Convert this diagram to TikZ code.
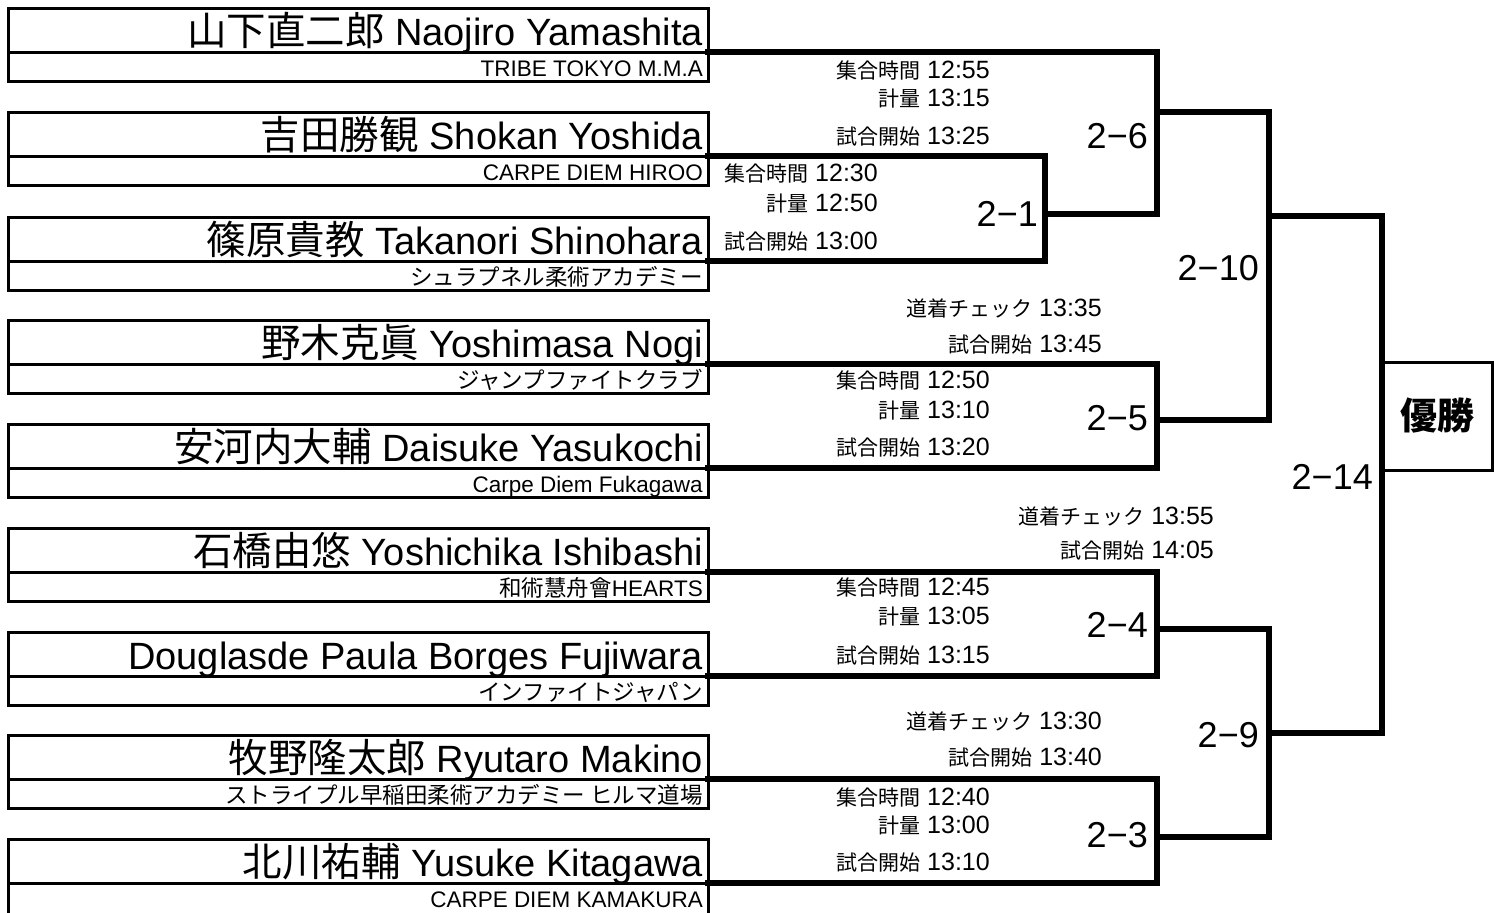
\documentclass[tikz,border=0pt]{standalone}
\usepackage{fontspec}
\setmainfont{Liberation Sans}
\newfontfamily\jp{Noto Sans CJK JP}
\newcommand\tj[1]{{\fontsize{21}{21}\selectfont\jp #1}}
\newcommand\nj[1]{{\fontsize{39.5}{39.5}\selectfont\jp #1}}
\begin{document}
\begin{tikzpicture}[x=1pt,y=-1pt,
  rowname/.style={draw,line width=3pt,minimum width=700pt,minimum height=44pt,anchor=north west,inner sep=0pt,outer sep=0pt},
  rowaff/.style={draw,line width=3pt,minimum width=700pt,minimum height=29pt,anchor=north west,inner sep=0pt,outer sep=0pt},
  nametxt/.style={anchor=base east,inner sep=0pt,font=\fontsize{38}{38}\selectfont},
  afftxt/.style={anchor=base east,inner sep=0pt,font=\fontsize{22.5}{22.5}\selectfont},
  tm/.style={anchor=base east,inner sep=0pt,font=\fontsize{25}{25}\selectfont},
  mlabel/.style={anchor=base east,inner sep=0pt,font=\fontsize{36}{36}\selectfont},
  bracket/.style={line width=6pt,line join=miter,line cap=rect}]
\useasboundingbox (0,0) rectangle (1494,913);
\clip (0,0) rectangle (1494,913);
\fill[white] (0,0) rectangle (1494,913);
% player boxes
\foreach \i/\t/\nm/\af in {
 1/8/{\nj{山下直二郎} Naojiro Yamashita}/{TRIBE TOKYO M.M.A},
 2/112/{\nj{吉田勝観} Shokan Yoshida}/{CARPE DIEM HIROO},
 3/217/{\nj{篠原貴教} Takanori Shinohara}/{{\jp シュラプネル柔術アカデミー}},
 4/320/{\nj{野木克眞} Yoshimasa Nogi}/{{\jp ジャンプファイトクラブ}},
 5/424/{\nj{安河内大輔} Daisuke Yasukochi}/{Carpe Diem Fukagawa},
 6/528/{\nj{石橋由悠} Yoshichika Ishibashi}/{{\jp 和術慧舟會}HEARTS},
 7/632/{Douglasde Paula Borges Fujiwara}/{{\jp インファイトジャパン}},
 8/735/{\nj{牧野隆太郎} Ryutaro Makino}/{{\jp ストライプル早稲田柔術アカデミー ヒルマ道場}},
 9/839/{\nj{北川祐輔} Yusuke Kitagawa}/{CARPE DIEM KAMAKURA}}{
  \node[rowname] (n\i) at (8,\t) {};
  \ifnum\i=9
    \node[rowaff,minimum height=34pt] (a\i) at (n\i.south west) {};
  \else
    \node[rowaff] (a\i) at (n\i.south west) {};
  \fi
  \node[nametxt] (nt\i) at (703,\t+37) {\nm};
  \node[afftxt] (at\i) at (703,\t+68) {\af};
}
% junctions
\coordinate (j21) at (1045,214);
\coordinate (j26) at (1157,112);
\coordinate (j25) at (1157,420);
\coordinate (j210) at (1269,216);
\coordinate (j24) at (1157,629);
\coordinate (j23) at (1157,837);
\coordinate (j29) at (1269,733);
\node[draw,line width=3pt,minimum width=110pt,minimum height=108pt,anchor=west,inner sep=0pt,outer sep=0pt,
  font=\fontsize{37}{37}\selectfont\jp\bfseries] (win) at (1382,416) {優勝};
% brackets
\draw[bracket] (n2.south east) -| (j21) |- (n3.south east);
\draw[bracket] (n1.south east) -| (j26) |- (j21);
\draw[bracket] (n4.south east) -| (j25) |- (n5.south east);
\draw[bracket] (j26) -| (j210) |- (j25);
\draw[bracket] (n6.south east) -| (j24) |- (n7.south east);
\draw[bracket] (n8.south east) -| (j23) |- (n9.south east);
\draw[bracket] (j24) -| (j29) |- (j23);
\draw[bracket] (j210) -| (win.west) |- (j29);
% match labels
\node[mlabel] (l26) at (1148,148) {2−6};
\node[mlabel] (l21) at (1038,226) {2−1};
\node[mlabel] (l210) at (1259,280) {2−10};
\node[mlabel] (l25) at (1148,430) {2−5};
\node[mlabel] (l214) at (1373,489) {2−14};
\node[mlabel] (l24) at (1148,637) {2−4};
\node[mlabel] (l29) at (1259,747) {2−9};
\node[mlabel] (l23) at (1148,847) {2−3};
% times
\foreach \k/\x/\y/\s in {
 1/990/78/{\tj{集合時間} 12:55}, 2/990/106/{\tj{計量} 13:15}, 3/990/144/{\tj{試合開始} 13:25},
 4/878/181/{\tj{集合時間} 12:30}, 5/878/211/{\tj{計量} 12:50}, 6/878/249/{\tj{試合開始} 13:00},
 7/1102/316/{\tj{道着チェック} 13:35}, 8/1102/352/{\tj{試合開始} 13:45},
 9/990/388/{\tj{集合時間} 12:50}, 10/990/418/{\tj{計量} 13:10}, 11/990/455/{\tj{試合開始} 13:20},
 12/1214/524/{\tj{道着チェック} 13:55}, 13/1214/558/{\tj{試合開始} 14:05},
 14/990/595/{\tj{集合時間} 12:45}, 15/990/624/{\tj{計量} 13:05}, 16/990/663/{\tj{試合開始} 13:15},
 17/1102/729/{\tj{道着チェック} 13:30}, 18/1102/765/{\tj{試合開始} 13:40},
 19/990/805/{\tj{集合時間} 12:40}, 20/990/833/{\tj{計量} 13:00}, 21/990/870/{\tj{試合開始} 13:10}}{
  \node[tm] (t\k) at (\x,\y) {\s};
}
\end{tikzpicture}
\end{document}
